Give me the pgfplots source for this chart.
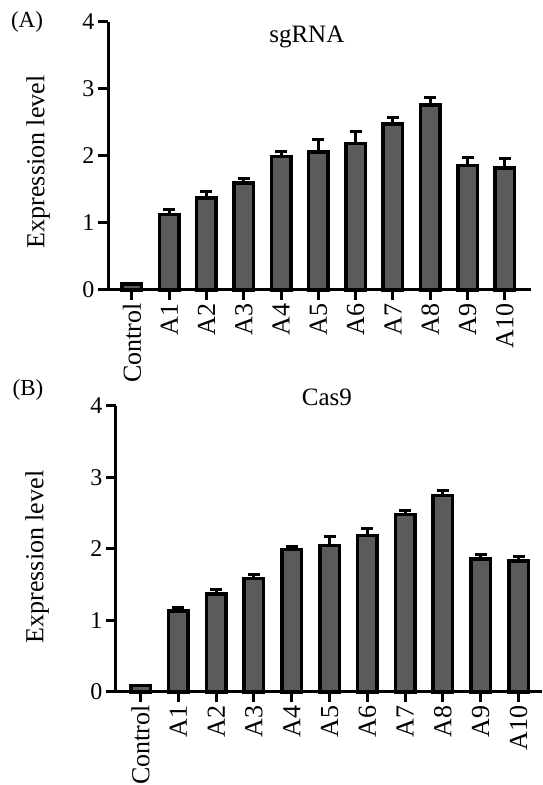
\documentclass[border=0pt]{standalone}
\usepackage{pgfplots}
\pgfplotsset{compat=1.18}
\usepackage{fontspec}
\setmainfont{Liberation Serif}
\definecolor{barfill}{HTML}{5B5B5B}
\pgfplotsset{
  mystyle/.style={
    scale only axis,
    clip=false,
    axis lines=left,
    axis line style={-, line width=3pt, black},
    ymin=0, ymax=4, ytick={0,1,2,3,4},
    xtick={0,1,2,3,4,5,6,7,8,9,10},
    xticklabels={Control,A1,A2,A3,A4,A5,A6,A7,A8,A9,A10},
    /pgf/number format/assume math mode=true,
    tick align=outside,
    major tick length=10pt,
    tick style={line width=3pt, black},
    xticklabel style={rotate=90, anchor=east, font=\fontsize{26}{30}\selectfont},
    yticklabel style={font=\fontsize{24}{28}\selectfont},
    ylabel={Expression level},
    ylabel style={anchor=center, font=\fontsize{26}{30}\selectfont},
    title style={anchor=center, font=\fontsize{25}{29}\selectfont},
    ybar, bar width=19.5pt,
  },
  barstyle/.style={
    draw=black, fill=barfill, line width=3.5pt,
    error bars/.cd, y dir=plus, y explicit,
    error bar style={line width=3pt, black},
    error mark options={rotate=90, mark size=6pt, line width=3pt, black},
  }
}
\begin{document}
\begin{tikzpicture}[x=1pt,y=1pt]
\useasboundingbox (0,0) rectangle (542,785);
\node[font=\fontsize{23}{27}\selectfont] at (27,763) {(A)};
\node[font=\fontsize{23}{27}\selectfont] at (28,395) {(B)};
\begin{axis}[mystyle,
  at={(108pt,495pt)}, anchor=south west,
  width=423pt, height=268pt,
  xmin=-0.64, xmax=10.7,
  ylabel style={at={(axis description cs:-0.165,0.478)}},
  title={sgRNA},
  title style={at={(axis description cs:0.47,0.92)}},
]
\addplot[barstyle] coordinates {
  (0,0.09) +- (0,0)
  (1,1.13) +- (0,0.07)
  (2,1.37) +- (0,0.10)
  (3,1.60) +- (0,0.07)
  (4,1.99) +- (0,0.08)
  (5,2.06) +- (0,0.19)
  (6,2.19) +- (0,0.17)
  (7,2.48) +- (0,0.09)
  (8,2.76) +- (0,0.12)
  (9,1.86) +- (0,0.12)
  (10,1.82) +- (0,0.14)
};
\end{axis}
\begin{axis}[mystyle,
  at={(116pt,93pt)}, anchor=south west,
  width=426pt, height=286pt,
  xmin=-0.65, xmax=10.62,
  ylabel style={at={(axis description cs:-0.185,0.472)}},
  title={Cas9},
  title style={at={(axis description cs:0.495,1.01)}},
]
\addplot[barstyle] coordinates {
  (0,0.09) +- (0,0)
  (1,1.13) +- (0,0.05)
  (2,1.37) +- (0,0.06)
  (3,1.59) +- (0,0.05)
  (4,1.99) +- (0,0.05)
  (5,2.05) +- (0,0.12)
  (6,2.19) +- (0,0.10)
  (7,2.48) +- (0,0.06)
  (8,2.75) +- (0,0.07)
  (9,1.86) +- (0,0.07)
  (10,1.83) +- (0,0.07)
};
\end{axis}
\end{tikzpicture}
\end{document}
